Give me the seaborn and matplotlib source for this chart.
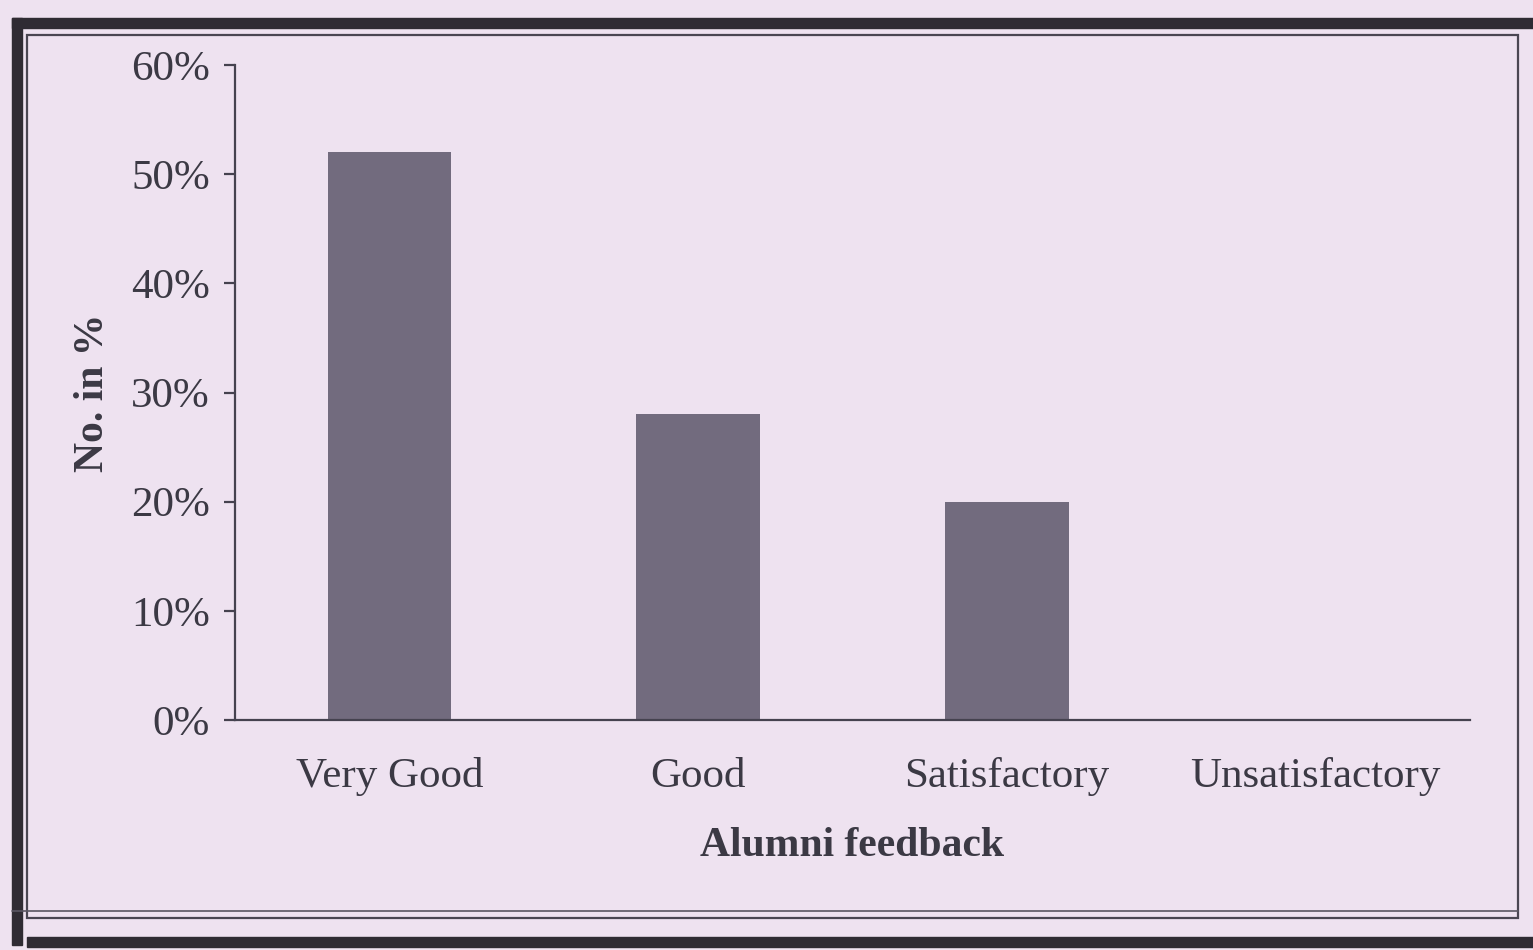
import matplotlib
matplotlib.use("Agg")
import matplotlib.pyplot as plt
from matplotlib.patches import Rectangle
from matplotlib.ticker import FuncFormatter
import seaborn as sns
import pandas as pd

# Alumni feedback survey results
categories = ["Very Good", "Good", "Satisfactory", "Unsatisfactory"]
percent = [52, 28, 20, 0]
y_ticks = [0, 10, 20, 30, 40, 50, 60]

BG = "#eee2f0"
INK = "#3b3944"
BAR = "#726b7e"

sns.set_theme(style="white")
plt.rcParams["font.family"] = ["Liberation Serif", "DejaVu Serif"]

fig = plt.figure(figsize=(15.33, 9.5), dpi=100, facecolor=BG)

W, H = 1533, 950


def frame_rect(x0, y0, x1, y1, lw, color):
    fig.patches.append(Rectangle((x0 / W, 1 - y1 / H), (x1 - x0) / W, (y1 - y0) / H,
                                 transform=fig.transFigure, fill=False,
                                 lw=lw, edgecolor=color, zorder=0))


# Heavy outer border and thin inner border around the chart
fig.patches.append(Rectangle((12 / W, 1 - 945 / H), 10 / W, (945 - 18) / H,
                             transform=fig.transFigure, color="#2f2b33", zorder=0))
fig.patches.append(Rectangle((12 / W, 1 - 28 / H), (W - 12) / W, 10 / H,
                             transform=fig.transFigure, color="#2f2b33", zorder=0))
fig.patches.append(Rectangle((27 / W, 1 - 947 / H), (W - 27) / W, 10 / H,
                             transform=fig.transFigure, color="#2f2b33", zorder=0))
frame_rect(27, 35, 1518, 918, 1.6, "#4a4652")
fig.lines.append(plt.Line2D([12 / W, 1518 / W], [1 - 911 / H, 1 - 911 / H],
                            transform=fig.transFigure, lw=1.2, color="#5a5662"))

ax = fig.add_axes([235 / W, 1 - 720 / H, (1470 - 235) / W, (720 - 65) / H])
ax.set_facecolor(BG)

df = pd.DataFrame({"feedback": categories, "pct": percent})
sns.barplot(data=df, x="feedback", y="pct", color=BAR, width=0.4,
            saturation=1, linewidth=0, edgecolor=BAR, ax=ax, zorder=2)

ax.set_xlim(-0.5, 3.5)
ax.set_ylim(0, 60)
ax.set_yticks(y_ticks)
ax.yaxis.set_major_formatter(FuncFormatter(lambda v, _: f"{v:.0f}%"))

for side in ("top", "right"):
    ax.spines[side].set_visible(False)
for side in ("left", "bottom"):
    ax.spines[side].set_color("#45424f")
    ax.spines[side].set_linewidth(1.6)

ax.tick_params(axis="y", direction="out", length=8, width=1.6, color="#45424f",
               pad=10, labelsize=31, labelcolor=INK, left=True)
ax.tick_params(axis="x", length=0, pad=27, labelsize=31, labelcolor=INK)

ax.set_xlabel("Alumni feedback", fontsize=30, fontweight="bold", color=INK, labelpad=22)
ax.set_ylabel("No. in %", fontsize=30, fontweight="bold", color=INK, labelpad=14)

fig.savefig("out.png", dpi=100, facecolor=BG)
